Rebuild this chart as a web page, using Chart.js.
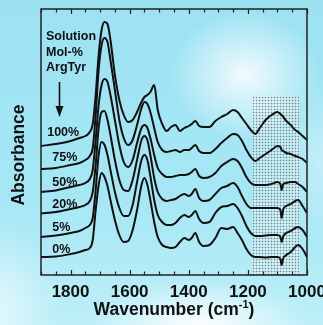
<!DOCTYPE html>
<html>
<head>
<meta charset="utf-8">
<script src="https://cdn.jsdelivr.net/npm/chart.js@4/dist/chart.umd.min.js"></script>
<style>
  html, body { margin: 0; padding: 0; }
  body {
    width: 323px; height: 325px; overflow: hidden;
    background:
      radial-gradient(ellipse 75px 65px at 245px 75px, rgba(255,255,255,0.85), rgba(255,255,255,0)),
      radial-gradient(ellipse 110px 45px at 200px 325px, rgba(255,255,255,0.95), rgba(255,255,255,0)),
      radial-gradient(ellipse 60px 90px at 0px 310px, rgba(255,255,255,0.55), rgba(255,255,255,0)),
      radial-gradient(ellipse 40px 80px at 323px 160px, rgba(255,255,255,0.35), rgba(255,255,255,0)),
      linear-gradient(180deg, #9ce2f2 0%, #a6e7f5 60%, #bdeff8 100%);
  }
  canvas { display: block; }
</style>
</head>
<body>
<canvas id="chart" width="323" height="325"></canvas>
<script>
  /* ── data (absorbance, arbitrary offset units) ── */
  const WN = [1900, 1850, 1800, 1770, 1750, 1735, 1725, 1715, 1705, 1695, 1685, 1675, 1665, 1650, 1635,
    1620, 1605, 1590, 1575, 1560, 1550, 1540, 1530, 1517, 1505, 1490, 1475, 1460, 1445, 1430,
    1415, 1400, 1390, 1378, 1365, 1350, 1330, 1310, 1290, 1270, 1250, 1235, 1220, 1205, 1190,
    1175, 1160, 1140, 1120, 1100, 1090, 1086, 1080, 1070, 1055, 1040, 1030, 1015, 1000];

  const ABS_100 = [129, 131, 134, 137, 139, 143, 151, 180, 220, 245, 253, 251, 235, 200, 175,
    160, 153, 155, 163, 173, 178, 180, 183, 190, 165, 151, 144, 148, 150, 144,
    147, 149, 151, 154, 149, 148, 148, 154, 158, 161, 165, 163, 157, 151, 145,
    141, 147, 155, 160, 163, 161, 160, 158, 154, 150, 145, 143, 139, 135];
  const ABS_75 = [106, 107, 110, 112, 115, 119, 127, 160, 205, 230, 237, 233, 215, 185, 155,
    137, 130, 135, 150, 167, 173, 171, 163, 147, 133, 125, 123, 124, 125, 123,
    125, 125, 127, 130, 124, 122, 122, 126, 132, 137, 141, 140, 134, 125, 118,
    114, 117, 121, 125, 129, 128, 125, 124, 122, 121, 119, 118, 116, 112];
  const ABS_50 = [83, 84.5, 88, 90, 92, 96, 105, 135, 170, 190, 196, 193, 180, 155, 130,
    113, 108, 115, 132, 147, 150, 147, 137, 120, 107, 101, 98, 98, 99, 100,
    100, 101, 103, 106, 99, 97, 98, 102, 109, 113, 116, 114, 107, 98, 92,
    90, 90, 90, 91, 93, 91, 85, 91, 92, 93, 93, 91, 88, 83];
  const ABS_20 = [61.5, 63, 66, 68, 70, 74, 83, 110, 147, 163, 164, 155, 140, 115, 95,
    85, 84, 95, 115, 135, 139, 135, 120, 97, 83, 76, 74, 75, 76, 79,
    81, 79, 81, 86, 77, 74, 75, 81, 87, 89, 92, 88, 79, 71, 67,
    67, 67, 67, 67, 67, 65, 57, 66, 69, 71, 74, 75, 69, 62];
  const ABS_5 = [38, 39.5, 42, 44, 47, 50, 57, 85, 120, 133, 130, 120, 105, 83, 67,
    59, 59, 70, 93, 115, 120, 115, 99, 75, 60, 53, 50, 50, 52, 57,
    60, 58, 60, 64, 56, 52, 53, 62, 68, 69, 71, 67, 59, 49, 42,
    39, 39, 39.5, 40, 40, 38, 33, 39, 42, 44, 47, 48, 45, 38];
  const ABS_0 = [18, 18.5, 21, 23, 25, 27, 35, 65, 90, 102, 98, 89, 75, 55, 40,
    33, 34, 45, 65, 90, 97, 90, 75, 53, 38, 30, 28, 27, 28, 33,
    37, 35, 37, 42, 33, 29, 30, 37, 47, 46, 48, 42, 35, 26, 20,
    18, 18, 17.5, 18, 18, 16, 10, 17, 20, 23, 28, 30, 26, 18];

  const SERIES = [ABS_100, ABS_75, ABS_50, ABS_20, ABS_5, ABS_0];
  const SERIES_NAMES = ["100%", "75%", "50%", "20%", "5%", "0%"];
  const HEADER = ["Solution", "Mol-%", "ArgTyr"];
  const TICK_LABELS = [1800, 1600, 1400, 1200, 1000];
  const SHADE_BAND = [1185, 1025];   // stippled wavenumber window
  const SHADE_TOP = 178;

  /* ── annotation placement (data coords) ── */
  const NAME_POS = [[1879, 142], [1862, 117], [1862, 92], [1862, 70], [1862, 47], [1862, 25]];
  const HEADER_POS = [[1883, 238], [1883, 222], [1883, 207]];
  const ARROW = { x: 1840, from: 193, to: 158 };

  const FONT = '"Liberation Sans", Arial, sans-serif';
  const INK = "#111";

  function stipple() {
    var t = document.createElement("canvas");
    t.width = 3; t.height = 3;
    var c = t.getContext("2d");
    c.fillStyle = "rgba(255,255,255,0.35)";
    c.fillRect(0, 0, 3, 3);
    c.fillStyle = "rgba(60,60,60,0.16)";
    c.fillRect(0, 1, 3, 1);
    c.fillRect(1, 0, 1, 3);
    c.fillStyle = "rgba(40,40,40,0.35)";
    c.fillRect(1, 1, 1, 1);
    return t;
  }

  const overlay = {
    id: "overlay",
    beforeDatasetsDraw(chart) {
      var ctx = chart.ctx, a = chart.chartArea, x = chart.scales.x, y = chart.scales.y;
      var x0 = x.getPixelForValue(SHADE_BAND[0]), x1 = x.getPixelForValue(SHADE_BAND[1]);
      var yt = y.getPixelForValue(SHADE_TOP);
      ctx.save();
      ctx.fillStyle = ctx.createPattern(stipple(), "repeat");
      ctx.fillRect(x0, yt, x1 - x0, a.bottom - yt);
      ctx.restore();
    },
    afterDraw(chart) {
      var ctx = chart.ctx, a = chart.chartArea, x = chart.scales.x, y = chart.scales.y;
      ctx.save();

      // frame + inward ticks top and bottom
      ctx.strokeStyle = "#222";
      ctx.lineWidth = 1.5;
      ctx.strokeRect(a.left, a.top, a.right - a.left, a.bottom - a.top);
      ctx.lineWidth = 1.2;
      ctx.beginPath();
      for (var v = 1000; v <= 1900; v += 50) {
        var px = Math.round(x.getPixelForValue(v)) + 0.5;
        var len = v % 200 === 0 ? 5 : 3.5;
        ctx.moveTo(px, a.bottom); ctx.lineTo(px, a.bottom - len);
        ctx.moveTo(px, a.top); ctx.lineTo(px, a.top + len);
      }
      ctx.stroke();

      // series names
      ctx.fillStyle = INK;
      ctx.textBaseline = "middle";
      ctx.textAlign = "left";
      ctx.font = "bold 12.5px " + FONT;
      SERIES_NAMES.forEach(function (n, i) {
        ctx.fillText(n, x.getPixelForValue(NAME_POS[i][0]), y.getPixelForValue(NAME_POS[i][1]));
      });
      HEADER.forEach(function (n, i) {
        ctx.fillText(n, x.getPixelForValue(HEADER_POS[i][0]), y.getPixelForValue(HEADER_POS[i][1]));
      });

      // arrow
      var ax = Math.round(x.getPixelForValue(ARROW.x)) + 0.5;
      var ay0 = y.getPixelForValue(ARROW.from), ay1 = y.getPixelForValue(ARROW.to);
      ctx.strokeStyle = INK;
      ctx.lineWidth = 1.6;
      ctx.beginPath();
      ctx.moveTo(ax, ay0); ctx.lineTo(ax, ay1 - 8);
      ctx.stroke();
      ctx.beginPath();
      ctx.moveTo(ax - 4, ay1 - 11); ctx.lineTo(ax + 4, ay1 - 11); ctx.lineTo(ax, ay1);
      ctx.closePath();
      ctx.fill();

      // y title
      ctx.save();
      ctx.translate(19, (a.top + a.bottom) / 2 + 13);
      ctx.rotate(-Math.PI / 2);
      ctx.textAlign = "center";
      ctx.font = "bold 17.5px " + FONT;
      ctx.fillText("Absorbance", 0, 0);
      ctx.restore();

      // x title with superscript
      ctx.textBaseline = "alphabetic";
      var main = "Wavenumber (cm", sup = "-1", end = ")";
      ctx.font = "bold 17.5px " + FONT;
      var wMain = ctx.measureText(main).width, wEnd = ctx.measureText(end).width;
      ctx.font = "bold 11px " + FONT;
      var wSup = ctx.measureText(sup).width;
      var cx = (a.left + a.right) / 2;
      var sx = cx - (wMain + wSup + wEnd) / 2;
      var base = 315;
      ctx.font = "bold 17.5px " + FONT;
      ctx.fillText(main, sx, base);
      ctx.fillText(end, sx + wMain + wSup, base);
      ctx.font = "bold 11px " + FONT;
      ctx.fillText(sup, sx + wMain, base - 7);

      ctx.restore();
    }
  };

  new Chart(document.getElementById("chart"), {
    type: "line",
    data: {
      datasets: SERIES.map(function (vals, i) {
        return {
          label: SERIES_NAMES[i],
          data: WN.map(function (w, j) { return { x: w, y: vals[j] }; }),
          borderColor: INK,
          borderWidth: 2,
          pointRadius: 0,
          fill: false,
          cubicInterpolationMode: "monotone",
        };
      }),
    },
    options: {
      responsive: false,
      animation: false,
      layout: { padding: { left: 41, right: 16, top: 9, bottom: 0 } },
      plugins: { legend: { display: false }, tooltip: { enabled: false } },
      scales: {
        x: {
          type: "linear",
          reverse: true,
          min: 1000,
          max: 1900,
          afterBuildTicks: function (s) { s.ticks = TICK_LABELS.map(function (v) { return { value: v }; }); },
          afterFit: function (s) { s.height = 50; s.paddingLeft = 0; s.paddingRight = 0; },
          grid: { display: false, drawTicks: false },
          border: { display: false },
          ticks: {
            color: INK,
            padding: 7,
            maxRotation: 0,
            autoSkip: false,
            font: { family: FONT, size: 17, weight: "bold" },
            callback: function (v) { return String(v); },
          },
        },
        y: { display: false, min: 0, max: 266 },
      },
    },
    plugins: [overlay],
  });
</script>
</body>
</html>
